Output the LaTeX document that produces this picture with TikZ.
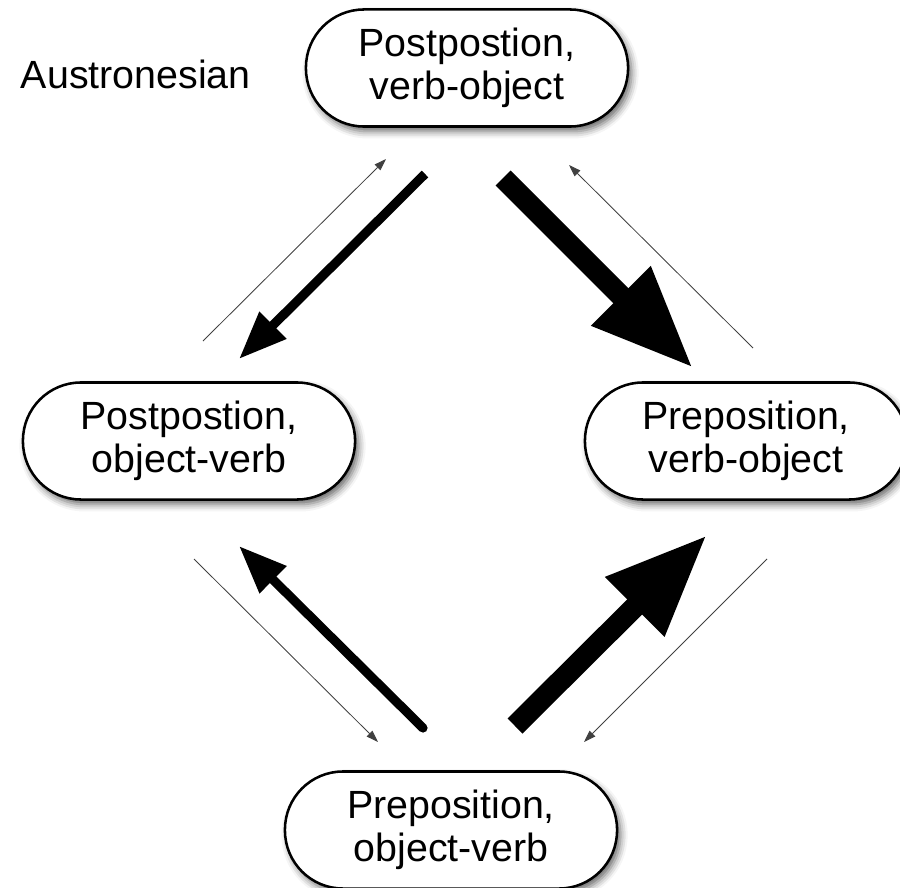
\documentclass[tikz,border=0pt]{standalone}
\usepackage{fontspec}
\setmainfont{Liberation Sans}
\usepackage{tikz}
\usetikzlibrary{arrows.meta,shapes,shadows,shadows.blur}
\tikzstyle{lang}=[draw=black,line width=1.8pt,fill=white,rounded corners=1.45cm,minimum height=2.925cm,minimum width=8.05cm,align=center,blur shadow={shadow xshift=2.5pt,shadow yshift=-3.5pt,shadow blur radius=5pt,shadow opacity=60}]
\tikzstyle{weak}=[-{Triangle[length=0.3cm,width=0.2cm]},line width=0.6pt,draw=black!75]
\tikzstyle{medium}=[-{Triangle[length=1.2cm,width=0.9cm]},line width=0.23cm]
\tikzstyle{strong}=[-{Triangle[length=2.55cm,width=1.95cm]},line width=0.53cm]

\begin{document}
\begin{tikzpicture}[x=0.025cm,y=-0.025cm,font=\fontsize{28}{31}\selectfont]
        \useasboundingbox (0,0) rectangle (900,887);
        % word order types
        \node (povo) at (467,68) [lang] {Postpostion,\\verb-object};
        \node (poov) at (189,441) [lang,minimum width=8.3cm] {Postpostion,\\object-verb};
        \node (prvo) at (746,441) [lang] {Preposition,\\verb-object};
        \node (prov) at (451,830) [lang,minimum width=8.3cm] {Preposition,\\object-verb};
        \node (austr) at (16,74) [anchor=west] {Austronesian};
        % arrow ends
        \coordinate (a1) at (425,174); \coordinate (a2) at (239,359);
        \coordinate (b1) at (503,178); \coordinate (b2) at (693,368);
        \coordinate (c1) at (423,728); \coordinate (c2) at (239,546);
        \coordinate (d1) at (515,726); \coordinate (d2) at (707,535);
        \coordinate (e1) at (203,341); \coordinate (e2) at (386,159);
        \coordinate (f1) at (753,348); \coordinate (f2) at (569,165);
        \coordinate (g1) at (194,559); \coordinate (g2) at (378,742);
        \coordinate (h1) at (767,559); \coordinate (h2) at (584,742);
        \draw[medium] (a1) -- (a2);
        \draw[strong] (b1) -- (b2);
        \draw[medium,line cap=round] (c1) -- (c2);
        \draw[strong] (d1) -- (d2);
        \draw[weak] (e1) -- (e2);
        \draw[weak] (f1) -- (f2);
        \draw[weak] (g1) -- (g2);
        \draw[weak] (h1) -- (h2);
      \end{tikzpicture}
\end{document}
